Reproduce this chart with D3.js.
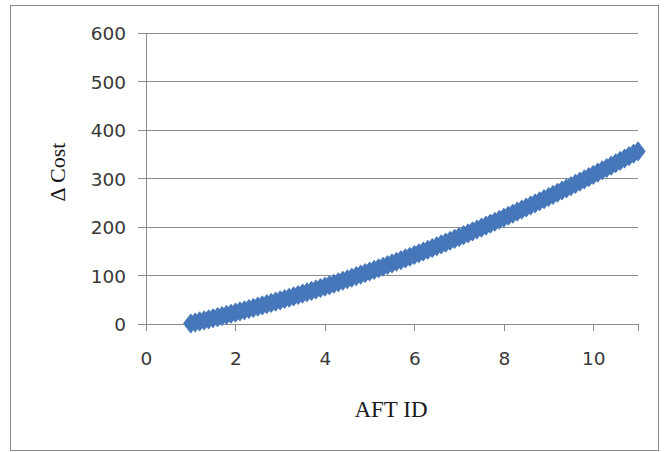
<!DOCTYPE html>
<html>
<head>
<meta charset="utf-8">
<script src="https://cdn.jsdelivr.net/npm/d3@7"></script>
<style>
  html, body { margin: 0; padding: 0; background: #ffffff; }
  svg { display: block; }
</style>
</head>
<body>
<div id="chart"></div>
<script>
// AFT ID values (x) and the matching change in cost (y)
const aftIds = [
  1.0, 1.1, 1.2, 1.3, 1.4, 1.5, 1.6, 1.7, 1.8, 1.9,
  2.0, 2.1, 2.2, 2.3, 2.4, 2.5, 2.6, 2.7, 2.8, 2.9,
  3.0, 3.1, 3.2, 3.3, 3.4, 3.5, 3.6, 3.7, 3.8, 3.9,
  4.0, 4.1, 4.2, 4.3, 4.4, 4.5, 4.6, 4.7, 4.8, 4.9,
  5.0, 5.1, 5.2, 5.3, 5.4, 5.5, 5.6, 5.7, 5.8, 5.9,
  6.0, 6.1, 6.2, 6.3, 6.4, 6.5, 6.6, 6.7, 6.8, 6.9,
  7.0, 7.1, 7.2, 7.3, 7.4, 7.5, 7.6, 7.7, 7.8, 7.9,
  8.0, 8.1, 8.2, 8.3, 8.4, 8.5, 8.6, 8.7, 8.8, 8.9,
  9.0, 9.1, 9.2, 9.3, 9.4, 9.5, 9.6, 9.7, 9.8, 9.9,
  10.0, 10.1, 10.2, 10.3, 10.4, 10.5, 10.6, 10.7, 10.8, 10.9,
  11.0
];
const deltaCost = [
  0.0, 2.1, 4.3, 6.4, 8.6, 10.9, 13.1, 15.4, 17.7, 20.1,
  22.5, 24.9, 27.3, 29.8, 32.2, 34.8, 37.3, 39.9, 42.5, 45.1,
  47.8, 50.5, 53.2, 56.0, 58.8, 61.6, 64.4, 67.3, 70.2, 73.1,
  76.1, 79.0, 82.0, 85.1, 88.2, 91.3, 94.4, 97.6, 100.7, 104.0,
  107.2, 110.5, 113.8, 117.1, 120.5, 123.9, 127.3, 130.7, 134.2, 137.7,
  141.3, 144.8, 148.4, 152.0, 155.7, 159.4, 163.1, 166.8, 170.6, 174.4,
  178.2, 182.1, 185.9, 189.9, 193.8, 197.8, 201.8, 205.8, 209.8, 213.9,
  218.1, 222.2, 226.4, 230.6, 234.8, 239.1, 243.4, 247.7, 252.0, 256.4,
  260.8, 265.2, 269.7, 274.2, 278.7, 283.3, 287.8, 292.5, 297.1, 301.8,
  306.5, 311.2, 315.9, 320.7, 325.5, 330.4, 335.2, 340.1, 345.1, 350.0,
  355.0
];
const xTicks = [0, 2, 4, 6, 8, 10];
const yTicks = [0, 100, 200, 300, 400, 500, 600];

const W = 665, H = 452;
const plot = { left: 146, right: 638, top: 32.5, bottom: 323.5 };

const svg = d3.select("#chart").append("svg")
  .attr("width", W).attr("height", H);

// chart frame
svg.append("rect")
  .attr("x", 10.5).attr("y", 5.5)
  .attr("width", 648).attr("height", 445)
  .attr("fill", "#ffffff")
  .attr("stroke", "#8a8a8a").attr("stroke-width", 1);

const x = d3.scaleLinear().domain([0, 11]).range([plot.left, plot.right]);
const y = d3.scaleLinear().domain([0, 600]).range([plot.bottom, plot.top]);

const gridColor = "#8c8c8c";
const labelFont = "'DejaVu Sans', Verdana, sans-serif";
const titleFont = "'Liberation Serif', 'Times New Roman', serif";

// horizontal gridlines
svg.append("g")
  .attr("transform", `translate(${plot.left},0)`)
  .call(d3.axisLeft(y).tickValues(yTicks).tickSize(-(plot.right - plot.left)).tickFormat(""))
  .call(g => g.select(".domain").remove())
  .call(g => g.selectAll("line").attr("stroke", gridColor).attr("shape-rendering", "crispEdges"));

// y axis
svg.append("g")
  .attr("transform", `translate(${plot.left},0)`)
  .call(d3.axisLeft(y).tickValues(yTicks).tickSize(8).tickPadding(12).tickFormat(d3.format("d")))
  .call(g => g.select(".domain").attr("stroke", gridColor).attr("shape-rendering", "crispEdges"))
  .call(g => g.selectAll("line").attr("stroke", gridColor).attr("shape-rendering", "crispEdges"))
  .call(g => g.selectAll("text")
    .attr("font-family", labelFont)
    .attr("font-size", 18.5)
    .attr("fill", "#383838")
    .attr("dy", "0.38em"));

// x axis
svg.append("g")
  .attr("transform", `translate(0,${plot.bottom})`)
  .call(d3.axisBottom(x).tickValues(xTicks).tickSize(7).tickPadding(21).tickFormat(d3.format("d")))
  .call(g => g.select(".domain").attr("stroke", gridColor).attr("shape-rendering", "crispEdges"))
  .call(g => g.selectAll("line").attr("stroke", gridColor).attr("shape-rendering", "crispEdges"))
  .call(g => g.selectAll("text")
    .attr("font-family", labelFont)
    .attr("font-size", 18.5)
    .attr("fill", "#383838"));

// axis titles
svg.append("text")
  .attr("x", 391).attr("y", 417)
  .attr("text-anchor", "middle")
  .attr("font-family", titleFont)
  .attr("font-size", 23)
  .attr("fill", "#1a1a1a")
  .text("AFT ID");

svg.append("text")
  .attr("transform", "translate(65,172) rotate(-90)")
  .attr("text-anchor", "middle")
  .attr("font-family", titleFont)
  .attr("font-size", 22)
  .attr("fill", "#1a1a1a")
  .text("\u0394 Cost");

// diamond markers, packed tightly so they read as a thick band
const hw = 7, hh = 9.2;
const markerColor = "#4677ba";
const pts = aftIds.map((d, i) => ({ x: d, y: deltaCost[i] }));
svg.append("g")
  .selectAll("path")
  .data(pts)
  .join("path")
  .attr("transform", d => `translate(${x(d.x)},${y(d.y)})`)
  .attr("d", `M0,${-hh}L${hw},0L0,${hh}L${-hw},0Z`)
  .attr("fill", markerColor)
  .attr("stroke", markerColor)
  .attr("stroke-width", 1.2)
  .attr("stroke-linejoin", "round");
</script>
</body>
</html>
